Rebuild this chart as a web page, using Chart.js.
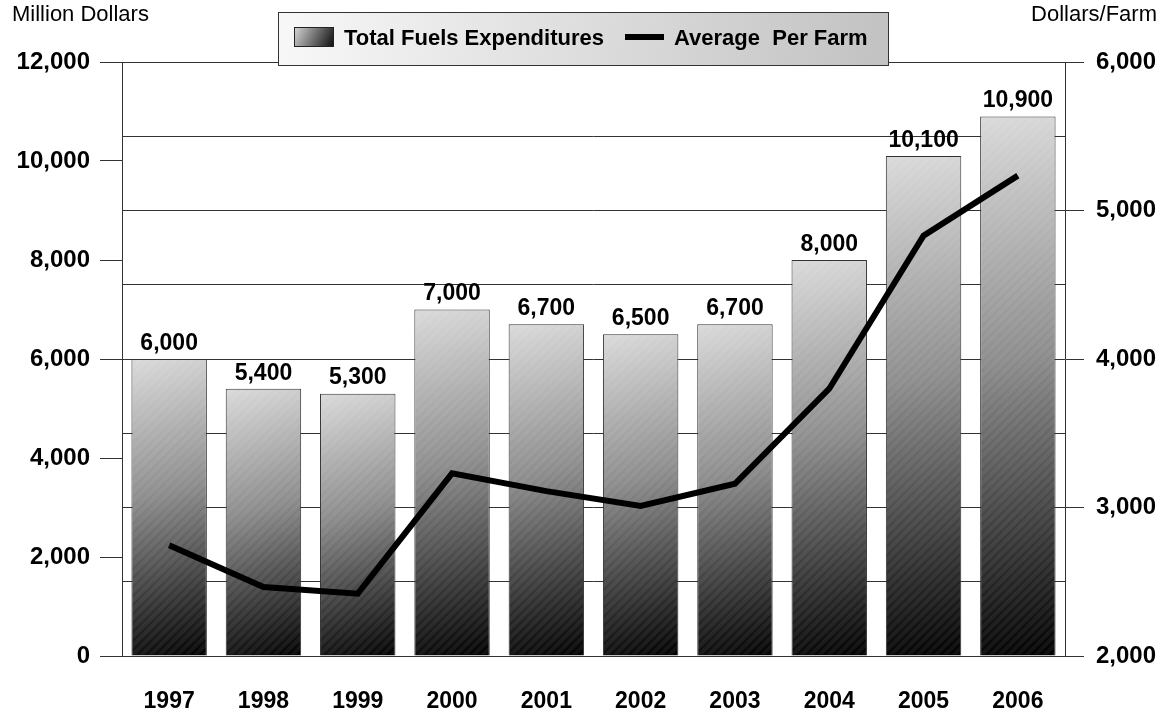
<!DOCTYPE html>
<html>
<head>
<meta charset="utf-8">
<title>Total Fuels Expenditures</title>
<script src="https://cdn.jsdelivr.net/npm/chart.js@4.4.1/dist/chart.umd.min.js"></script>
<style>
    html, body { margin: 0; padding: 0; background: #fff; }
    #wrap { position: relative; width: 1165px; height: 713px; }
</style>
</head>
<body>
<div id="wrap"><canvas id="fuelChart"></canvas></div>
<script>
// data
const years = ['1997', '1998', '1999', '2000', '2001', '2002', '2003', '2004', '2005', '2006'];
const fuelExpenditures = [6000, 5400, 5300, 7000, 6700, 6500, 6700, 8000, 10100, 10900];
const averagePerFarm = [2745, 2465, 2420, 3230, 3110, 3010, 3160, 3800, 4830, 5235];
const leftTicks = [0, 12000, 2000];     // min, max, step
const rightTicks = [2000, 6000, 500];   // min, max, step (labels every 1000)

const FONT = '"Liberation Sans", Arial, sans-serif';
Chart.defaults.color = '#000';
Chart.defaults.font.family = FONT;

const fmt = (v) => Number(v).toLocaleString('en-US');

// gradient for each bar, light top-left to black bottom-right
function barFill(context) {
    const chart = context.chart;
    const area = chart.chartArea;
    if (!area || context.type !== 'data') {
        return '#888';
    }
    const xs = chart.scales.x;
    const ys = chart.scales.y;
    const cx = xs.getPixelForValue(context.dataIndex);
    const half = (xs.width / years.length) * 0.4;
    const top = ys.getPixelForValue(context.raw);
    const g = chart.ctx.createLinearGradient(cx - half, top, cx + half, area.bottom);
    g.addColorStop(0, '#dadada');
    g.addColorStop(0.45, '#8c8c8c');
    g.addColorStop(0.85, '#262626');
    g.addColorStop(1, '#000');
    return g;
}

// faint diagonal stripes over the bars (drawn before the line)
const barStripes = {
    id: 'barStripes',
    afterDatasetDraw(chart, args) {
        if (args.index !== 0) return;
        const ctx = chart.ctx;
        chart.getDatasetMeta(0).data.forEach((bar) => {
            const l = bar.x - bar.width / 2, r = bar.x + bar.width / 2;
            ctx.save();
            ctx.beginPath();
            ctx.rect(l + 1, bar.y + 1, bar.width - 2, bar.base - bar.y - 2);
            ctx.clip();
            ctx.strokeStyle = 'rgba(255,255,255,0.06)';
            ctx.lineWidth = 4;
            for (let k = bar.y - bar.width; k < bar.base + bar.width; k += 9) {
                ctx.beginPath();
                ctx.moveTo(l, k + bar.width);
                ctx.lineTo(r, k);
                ctx.stroke();
            }
            ctx.restore();
        });
    }
};

// value labels above the bars
const barLabels = {
    id: 'barLabels',
    afterDatasetsDraw(chart) {
        const ctx = chart.ctx;
        ctx.save();
        ctx.font = 'bold 23px ' + FONT;
        ctx.fillStyle = '#000';
        ctx.textAlign = 'center';
        ctx.textBaseline = 'bottom';
        chart.getDatasetMeta(0).data.forEach((bar, i) => {
            ctx.fillText(fmt(fuelExpenditures[i]), bar.x, bar.y - 4);
        });
        ctx.restore();
    }
};

// axis titles and the boxed legend at the top
const topTexts = {
    id: 'topTexts',
    afterDraw(chart) {
        const ctx = chart.ctx;
        ctx.save();
        ctx.font = '22px ' + FONT;
        ctx.fillStyle = '#000';
        ctx.textBaseline = 'middle';
        ctx.textAlign = 'left';
        ctx.fillText('Million Dollars', 12, 15);
        ctx.textAlign = 'right';
        ctx.fillText('Dollars/Farm', 1157, 15);

        // legend box
        const bx = 278, by = 12, bw = 610, bh = 53;
        const bg = ctx.createLinearGradient(bx, by, bx + bw, by + bh);
        bg.addColorStop(0, '#f8f8f8');
        bg.addColorStop(1, '#c2c2c2');
        ctx.fillStyle = bg;
        ctx.fillRect(bx, by, bw, bh);
        ctx.strokeStyle = '#333';
        ctx.lineWidth = 1;
        ctx.strokeRect(bx + 0.5, by + 0.5, bw, bh);

        // bar swatch
        const sw = ctx.createLinearGradient(294, 27, 333, 46);
        sw.addColorStop(0, '#d8d8d8');
        sw.addColorStop(1, '#111');
        ctx.fillStyle = sw;
        ctx.fillRect(294, 27, 39, 19);
        ctx.strokeStyle = '#222';
        ctx.strokeRect(294.5, 27.5, 39, 19);

        ctx.font = 'bold 22px ' + FONT;
        ctx.fillStyle = '#000';
        ctx.textAlign = 'left';
        ctx.fillText('Total Fuels Expenditures', 344, 39);

        // line swatch
        ctx.strokeStyle = '#000';
        ctx.lineWidth = 6;
        ctx.beginPath();
        ctx.moveTo(625, 37);
        ctx.lineTo(664, 37);
        ctx.stroke();
        ctx.fillText('Average  Per Farm', 674, 39);
        ctx.restore();
    }
};

const data = {
    labels: years,
    datasets: [{
        type: 'bar',
        label: 'Total Fuels Expenditures',
        data: fuelExpenditures,
        yAxisID: 'y',
        backgroundColor: barFill,
        borderColor: '#333',
        borderWidth: 1,
        barPercentage: 0.8,
        categoryPercentage: 1.0,
        order: 2
    }, {
        type: 'line',
        label: 'Average  Per Farm',
        data: averagePerFarm,
        yAxisID: 'y1',
        borderColor: '#000',
        borderWidth: 6,
        pointRadius: 0,
        tension: 0,
        fill: false,
        order: 1
    }]
};

const config = {
    type: 'bar',
    data: data,
    options: {
        responsive: true,
        maintainAspectRatio: false,
        animation: false,
        layout: { padding: { top: 62, left: 0, right: 0, bottom: 0 } },
        plugins: {
            legend: { display: false },
            tooltip: { enabled: false }
        },
        scales: {
            x: {
                grid: { display: false, drawTicks: false },
                border: { display: true, color: '#333' },
                ticks: {
                    font: { size: 23, weight: 'bold' },
                    padding: 32,
                    maxRotation: 0
                },
                afterFit: (scale) => { scale.height = 57; }
            },
            y: {
                position: 'left',
                min: leftTicks[0],
                max: leftTicks[1],
                ticks: {
                    stepSize: leftTicks[2],
                    font: { size: 24, weight: 'bold' },
                    padding: 10,
                    callback: (v) => fmt(v)
                },
                grid: {
                    drawOnChartArea: false,
                    tickLength: 22,
                    tickColor: '#333'
                },
                border: { display: true, color: '#333' },
                afterFit: (scale) => { scale.width = 122; }
            },
            y1: {
                position: 'right',
                min: rightTicks[0],
                max: rightTicks[1],
                ticks: {
                    stepSize: rightTicks[2],
                    font: { size: 24, weight: 'bold' },
                    padding: 12,
                    callback: (v) => (v % 1000 === 0 ? fmt(v) : '')
                },
                grid: {
                    drawOnChartArea: true,
                    color: '#333',
                    tickLength: 19,
                    tickColor: (c) => (c.tick && c.tick.value % 1000 === 0 ? '#333' : 'rgba(0,0,0,0)')
                },
                border: { display: true, color: '#333' },
                afterFit: (scale) => { scale.width = 100; }
            }
        }
    },
    plugins: [barStripes, barLabels, topTexts]
};

const myChart = new Chart(document.getElementById('fuelChart').getContext('2d'), config);
</script>
</body>
</html>
